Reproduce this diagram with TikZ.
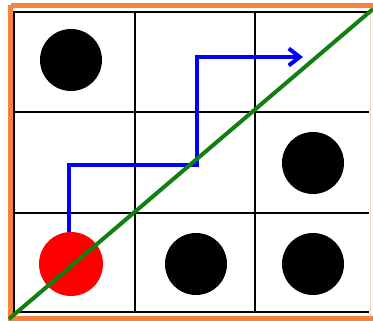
\documentclass[tikz,border=0pt]{standalone}
\usetikzlibrary{arrows.meta}
\definecolor{frameorange}{RGB}{247,130,60}
\definecolor{pathblue}{RGB}{0,0,255}
\definecolor{diaggreen}{RGB}{16,128,16}
\begin{document}
\begin{tikzpicture}[x=1pt,y=-1pt,
  gridline/.style={line width=2.6pt,black},
  frameline/.style={line width=5pt,frameorange},
  dot/.style={circle,fill=black,minimum size=62pt,inner sep=0pt},
  reddot/.style={circle,fill=red,minimum size=64pt,inner sep=0pt},
  bluepath/.style={line width=4pt,pathblue,-{Straight Barb[length=11pt,width=17pt,line width=4pt]}},
  diagline/.style={line width=4pt,diaggreen}]
\useasboundingbox (0,0) rectangle (373,321);
\fill[white] (0,0) rectangle (373,321);
\begin{scope}
\clip (0,0) rectangle (373,321);
% orange frame
\draw[frameline] (10.5,5.5) -- (380,5.5);
\draw[frameline] (10.5,5.5) -- (10.5,318.5) -- (380,318.5);
\draw[line width=1.5pt,frameorange!35] (370.5,8) -- (370.5,316);
% grid
\draw[gridline] (14,12) -- (14,312);
\draw[gridline] (135,12) -- (135,312);
\draw[gridline] (255,12) -- (255,312);
\draw[gridline] (12.7,12) -- (369,12);
\draw[gridline] (14,112) -- (369,112);
\draw[gridline] (14,213) -- (369,213);
\draw[gridline] (12.7,312) -- (369,312);
\end{scope}
% circles
\node[dot] (c11) at (71,60) {};
\node[dot] (c23) at (313,163) {};
\node[reddot] (c31) at (71,264) {};
\node[dot] (c32) at (196,264) {};
\node[dot] (c33) at (313,264) {};
% blue path
\coordinate (p1) at (69,165);
\coordinate (p2) at (197,165);
\coordinate (p3) at (197,57);
\coordinate (pend) at (303,57);
\draw[bluepath] (c31.north -| p1) -- (p1) -- (p2) -- (p3) -- (pend);
% green diagonal
\coordinate (g0) at (9,319);
\coordinate (g1) at (373,9);
\draw[diagline] (g0) -- (g1);
\end{tikzpicture}
\end{document}
